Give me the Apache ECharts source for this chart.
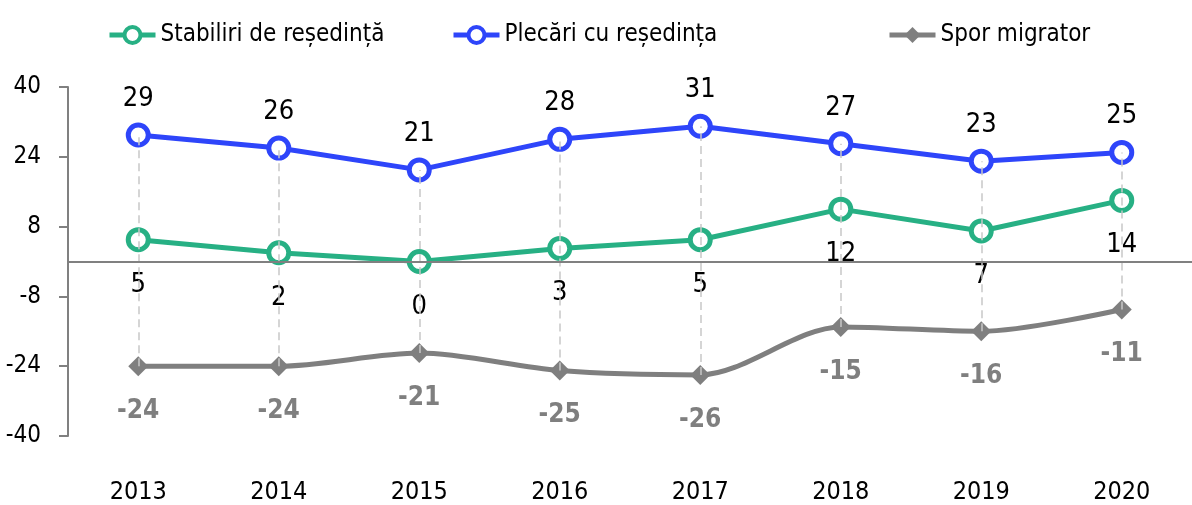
<!DOCTYPE html>
<html>
<head>
<meta charset="utf-8">
<script src="https://cdn.jsdelivr.net/npm/echarts@6/dist/echarts.min.js"></script>
<style>
  html, body { margin: 0; padding: 0; background: #fff; }
  #chart { width: 1192px; height: 505px; }
</style>
</head>
<body>
<div id="chart"></div>
<script>
const years = ["2013", "2014", "2015", "2016", "2017", "2018", "2019", "2020"];
const stabiliri = [5, 2, 0, 3, 5, 12, 7, 14];
const plecari = [29, 26, 21, 28, 31, 27, 23, 25];
const spor = [-24, -24, -21, -25, -26, -15, -16, -11];
const yTicks = [-40, -24, -8, 8, 24, 40];
const seriesNames = ["Stabiliri de reședință", "Plecări cu reședința", "Spor migrator"];

const FONT = "'DejaVu Sans Condensed', 'Liberation Sans Narrow', sans-serif";

// linii punctate verticale de la spor la plecari
let dropLines = [];
for (let i = 0; i < years.length; i++) {
  dropLines.push([{ coord: [i, spor[i]] }, { coord: [i, plecari[i]] }]);
}

function legendAt(name, left) {
  return {
    top: 18,
    left: left,
    itemWidth: 46,
    itemHeight: 20,
    itemGap: 0,
    lineStyle: { width: 5 },
    itemStyle: { borderWidth: 4 },
    textStyle: { fontFamily: FONT, fontSize: 24, color: "#000" },
    data: [name],
  };
}

let chart = echarts.init(document.getElementById("chart"));
chart.setOption({
  animation: false,
  textStyle: { fontFamily: FONT },
  legend: [
    legendAt(seriesNames[0], 102),
    legendAt(seriesNames[1], 446),
    legendAt(seriesNames[2], 882),
  ],
  grid: { left: 68, right: -9, top: 87, bottom: 69 },
  xAxis: {
    type: "category",
    data: years,
    boundaryGap: true,
    axisLine: { show: false },
    axisTick: { show: false },
    axisLabel: { fontSize: 25, color: "#000", margin: 44, fontFamily: FONT },
  },
  yAxis: {
    type: "value",
    min: yTicks[0],
    max: yTicks[yTicks.length - 1],
    interval: 16,
    splitLine: { show: false },
    axisLine: { show: true, lineStyle: { color: "#808080", width: 2 } },
    axisTick: { show: true, length: 9, lineStyle: { color: "#808080", width: 2 } },
    axisLabel: { fontSize: 24, color: "#000", margin: 27, fontFamily: FONT },
  },
  series: [
    {
      name: seriesNames[2],
      type: "line",
      smooth: 0.3,
      data: spor,
      z: 2,
      symbol: "diamond",
      symbolSize: 20,
      itemStyle: { color: "#7f7f7f" },
      lineStyle: { color: "#7f7f7f", width: 5 },
      label: {
        show: true,
        position: "bottom",
        distance: 22,
        fontSize: 26,
        fontWeight: "bold",
        color: "#7f7f7f",
        fontFamily: FONT,
      },
      markLine: {
        silent: true,
        symbol: "none",
        label: { show: false },
        lineStyle: { color: "#c8c8c8", type: [8, 5], width: 1.5 },
        data: dropLines.concat([
          [
            { yAxis: 0, x: 68, lineStyle: { color: "#808080", type: "solid", width: 2 } },
            { yAxis: 0, x: 1192 },
          ],
        ]),
      },
    },
    {
      name: seriesNames[0],
      type: "line",
      data: stabiliri,
      z: 3,
      symbol: "circle",
      symbolSize: 20,
      itemStyle: { color: "#fff", borderColor: "#27b084", borderWidth: 5 },
      lineStyle: { color: "#27b084", width: 5 },
      label: {
        show: true,
        position: "bottom",
        distance: 19,
        fontSize: 27,
        color: "#000",
        fontFamily: FONT,
      },
    },
    {
      name: seriesNames[1],
      type: "line",
      data: plecari,
      z: 3,
      symbol: "circle",
      symbolSize: 20,
      itemStyle: { color: "#fff", borderColor: "#2e45fa", borderWidth: 5 },
      lineStyle: { color: "#2e45fa", width: 5 },
      label: {
        show: true,
        position: "top",
        distance: 10,
        fontSize: 27,
        color: "#000",
        fontFamily: FONT,
      },
    },
  ],
});
</script>
</body>
</html>
